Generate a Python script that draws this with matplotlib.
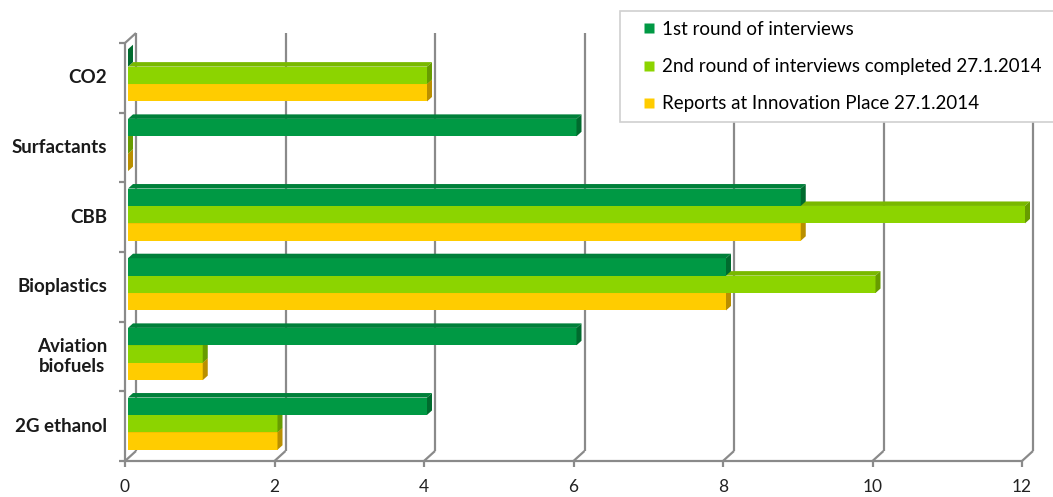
import matplotlib
matplotlib.use("Agg")
import matplotlib.pyplot as plt
from matplotlib.patches import Polygon, Rectangle
from matplotlib.lines import Line2D

# ---- data ----
categories = ["2G ethanol", "Aviation\nbiofuels", "Bioplastics", "CBB", "Surfactants", "CO2"]
round1 = [4, 6, 8, 9, 6, 0]
round2 = [2, 1, 10, 12, 0, 4]
reports = [2, 1, 8, 9, 0, 4]
series_labels = ["1st round of interviews",
                 "2nd round of interviews completed 27.1.2014",
                 "Reports at Innovation Place 27.1.2014"]
x_ticks = [0, 2, 4, 6, 8, 10, 12]

# ---- style ----
front_cols = ["#009944", "#8CD400", "#FFCC00"]
top_cols = ["#00803A", "#79B800", "#E0B000"]
end_cols = ["#006B2E", "#679C00", "#B98F00"]
grid_col = "#8A8A8A"
FONT = "Lato"

W, H = 1053, 497
fig = plt.figure(figsize=(W / 100, H / 100), dpi=100)
L, R, T, B = 125, 1022, 43, 461
ax = fig.add_axes([L / W, 1 - B / H, (R - L) / W, (B - T) / H])
ax.set_xlim(0, 12)
ax.set_ylim(-0.5, 5.5)
ax.axis("off")

sx = (R - L) / 12.0
sy = (B - T) / 6.0


def off(px, py):
    return px / sx, py / sy


bdx, bdy = off(11, 10)      # back wall offset
fdx, fdy = off(3, 2.5)      # bar front-face offset
ddx, ddy = off(5, 4.5)      # bar depth
tick_len_x = off(6, 0)[0]
tick_len_y = off(0, 6)[1]

lw = 1.6
kw = dict(color=grid_col, lw=lw, clip_on=False, solid_capstyle="butt")

# back wall gridlines + floor diagonals + front ticks
for v in x_ticks:
    ax.plot([v + bdx, v + bdx], [-0.5 + bdy, 5.5 + bdy], zorder=1, **kw)
    ax.plot([v, v + bdx], [-0.5, -0.5 + bdy], zorder=1, **kw)
    ax.plot([v, v], [-0.5, -0.5 - tick_len_y], zorder=1, **kw)
    ax.text(v, -0.5 - off(0, 26)[1], str(v), ha="center", va="center",
            fontsize=12.5, family=FONT, color="#222222")

# front floor edge and left wall
ax.plot([0, 12], [-0.5, -0.5], zorder=1, **kw)
ax.plot([0, 0], [-0.5, 5.5], zorder=1, **kw)
ax.plot([0, bdx], [5.5, 5.5 + bdy], zorder=1, **kw)
for k in range(7):
    y = -0.5 + k
    ax.plot([0, -tick_len_x], [y, y], zorder=1, **kw)

# category labels
for i, c in enumerate(categories):
    ax.text(-off(18, 0)[0], i, c, ha="right", va="center", multialignment="center",
            fontsize=13.5, family=FONT, fontweight="bold", color="#1a1a1a",
            linespacing=1.25)

# bars with 3-D faces
h = 0.25
all_series = [round1, round2, reports]
for i in range(len(categories)):
    for j in (2, 1, 0):
        v = all_series[j][i]
        y0 = i + 0.375 - (j + 1) * h + fdy
        x0 = fdx
        x1 = v + fdx
        z = 5 + (2 - j)
        ax.add_patch(Rectangle((x0, y0), v, h, facecolor=front_cols[j],
                               edgecolor="none", zorder=z, clip_on=False))
        ax.add_patch(Polygon([(x0, y0 + h), (x0 + ddx, y0 + h + ddy),
                              (x1 + ddx, y0 + h + ddy), (x1, y0 + h)],
                             closed=True, facecolor=top_cols[j], edgecolor="none",
                             zorder=z, clip_on=False))
        ax.add_patch(Polygon([(x1, y0), (x1 + ddx, y0 + ddy),
                              (x1 + ddx, y0 + h + ddy), (x1, y0 + h)],
                             closed=True, facecolor=end_cols[j], edgecolor="none",
                             zorder=z, clip_on=False))

# legend box (extends beyond the right edge as in the reference)
fig.patches.append(Rectangle((620 / W, 1 - 122 / H), 460 / W, 111 / H,
                             transform=fig.transFigure, facecolor="white",
                             edgecolor="#D0D0D0", lw=1.2, zorder=20))
handles = [Line2D([], [], marker="s", linestyle="none", markersize=7,
                  markerfacecolor=front_cols[j], markeredgecolor="none")
           for j in range(3)]
leg = fig.legend(handles, series_labels, loc="upper left",
                 bbox_to_anchor=(628 / W, 1 - 6 / H), frameon=False,
                 prop={"family": FONT, "size": 13.5}, handlelength=0.6,
                 handletextpad=0.4, labelspacing=1.07, borderpad=0.3)
leg.set_zorder(21)

fig.savefig("out.png", dpi=100, facecolor="white")
